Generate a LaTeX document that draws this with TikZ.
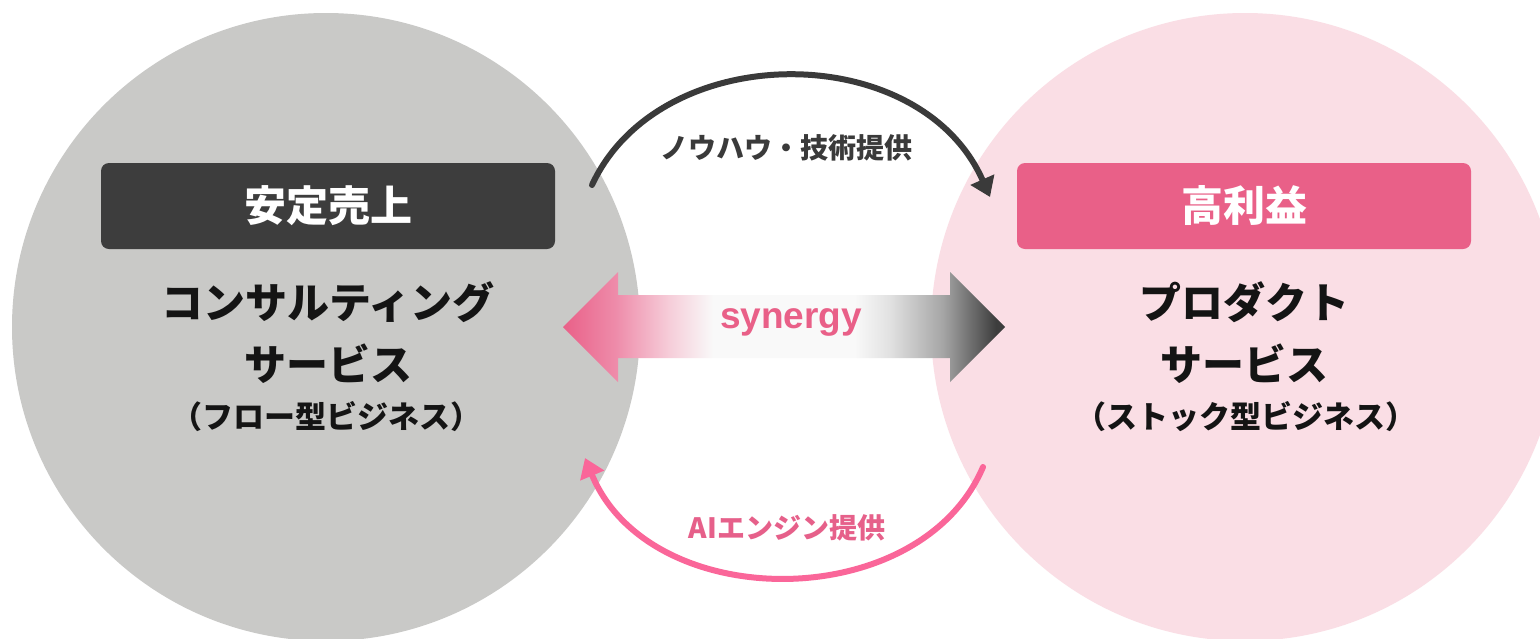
\documentclass[tikz,border=0pt]{standalone}
\usepackage{fontspec}
\setmainfont{Liberation Sans}
\newfontfamily\jp{Noto Sans CJK JP}
\usetikzlibrary{arrows.meta}
\definecolor{circgray}{RGB}{201,201,199}
\definecolor{circpink}{RGB}{250,222,229}
\definecolor{boxdark}{RGB}{61,61,61}
\definecolor{boxpink}{RGB}{233,96,136}
\definecolor{pinkmid}{RGB}{238,140,170}
\definecolor{pinklight}{RGB}{246,205,217}
\definecolor{graymid}{RGB}{165,165,165}
\definecolor{graylight}{RGB}{225,225,225}
\definecolor{synwhite}{RGB}{249,249,249}
\definecolor{arcpink}{RGB}{250,102,153}
\definecolor{lblpink}{RGB}{230,96,138}
\definecolor{arcdark}{RGB}{58,58,58}
\definecolor{txtdark}{RGB}{20,20,20}
\pgfdeclarehorizontalshading{synshade}{100bp}{color(0bp)=(boxpink); color(25bp)=(boxpink); color(31bp)=(pinkmid); color(37bp)=(pinklight); color(42bp)=(synwhite); color(58bp)=(synwhite); color(62bp)=(graylight); color(68bp)=(graymid); color(74bp)=(boxdark); color(100bp)=(boxdark)}
\tikzset{
  headbox/.style={rounded corners=8pt, minimum width=454pt, minimum height=86pt, inner sep=0pt, text=white, font=\jp\bfseries\fontsize{42}{50}\selectfont},
  bigtxt/.style={text=txtdark, inner sep=0pt, font=\jp\bfseries\fontsize{42}{50}\selectfont},
  smalltxt/.style={text=txtdark, inner sep=0pt, font=\jp\bfseries\fontsize{31}{37}\selectfont},
  arclbl/.style={inner sep=0pt, font=\jp\bfseries\fontsize{28}{34}\selectfont},
  arcline/.style={line width=6pt, line cap=round, -{Triangle[length=19pt,width=25pt]}}
}
\begin{document}
\begin{tikzpicture}[x=1pt,y=-1pt]
\useasboundingbox (0,0) rectangle (1540,638);
\clip (0,0) rectangle (1540,638);
\fill[white] (0,0) rectangle (1540,638);
% circles
\fill[circgray] (326,327) circle[radius=314pt];
\fill[circpink] (1245,327) circle[radius=314pt];
% header boxes
\node[headbox, fill=boxdark] (lhead) at (328,206) {安定売上};
\node[headbox, fill=boxpink] (rhead) at (1244,206) {高利益};
% texts
\node[bigtxt] (l1) at (328,302) {コンサルティング};
\node[bigtxt] (l2) at (328,364) {サービス};
\node[smalltxt] (l3) at (326,417) {（フロー型ビジネス）};
\node[bigtxt] (r1) at (1244,302) {プロダクト};
\node[bigtxt] (r2) at (1244,364) {サービス};
\node[smalltxt] (r3) at (1246,417) {（ストック型ビジネス）};
% synergy double arrow
\shade[shading=synshade] (563,327) -- (618,272) -- (618,295) -- (950,295) -- (950,272) -- (1005,327) -- (950,382) -- (950,358) -- (618,358) -- (618,382) -- cycle;
\node[inner sep=0pt, text=boxpink, font=\bfseries\fontsize{37}{43}\selectfont] (syn) at (791,322) {synergy};
% arcs
\coordinate (ts) at (592,185);
\coordinate (te) at (990,197);
\coordinate (bs) at (983,467);
\coordinate (be) at (585,458);
\draw[arcline, arcdark] (ts) .. controls (660,38) and (920,38) .. (te);
\draw[arcline, arcpink] (bs) .. controls (920,615) and (650,615) .. (be);
\node[arclbl, text=arcdark] (tl) at (786,148) {ノウハウ・技術提供};
\node[arclbl, text=lblpink] (bl) at (787,528) {AIエンジン提供};
\end{tikzpicture}
\end{document}
